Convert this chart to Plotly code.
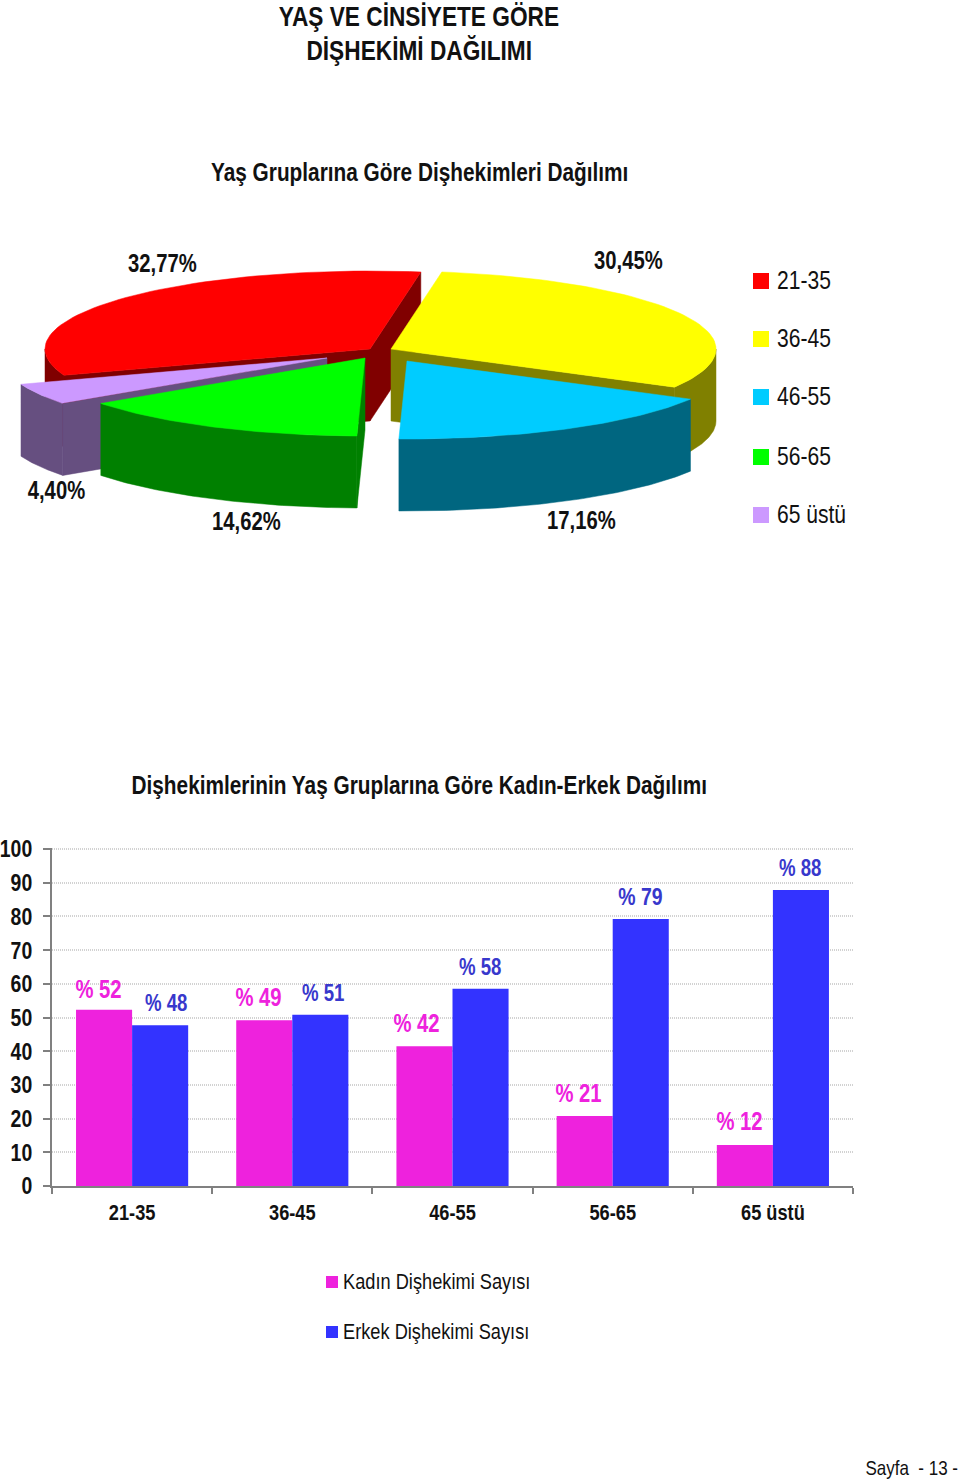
import math
import plotly.graph_objects as go

# ---- data ----
age_groups = ["21-35", "36-45", "46-55", "56-65", "65 üstü"]
pie_values = [32.77, 30.45, 17.16, 14.62, 4.40]
female_pct = [52.3, 49.2, 41.5, 20.8, 12.2]
male_pct = [47.7, 50.8, 58.5, 79.2, 87.8]
female_labels = ["% 52", "% 49", "% 42", "% 21", "% 12"]
male_labels = ["% 48", "% 51", "% 58", "% 79", "% 88"]
series_names = ["Kadın Dişhekimi Sayısı", "Erkek Dişhekimi Sayısı"]

# ---- styles / layout ----
FONT = "Liberation Sans, Arial, sans-serif"
top_colors = ["#FF0000", "#FFFF00", "#00CCFF", "#00FF00", "#CC99FF"]
wall_colors = ["#800000", "#808000", "#006680", "#008000", "#664F80"]
apexes = [(370, 349), (391, 349), (407, 361), (365, 358), (327, 358)]
RX, RY, DEPTH = 325, 78, 72
START = 9.0

total = sum(pie_values)
angles = {}
a = START
order = [1, 2, 3, 4, 0]
for i in order:
    sweep = pie_values[i] / total * 360
    angles[i] = (a, a + sweep)
    a += sweep


def pt(apex, t, dz=0):
    r = math.radians(t)
    return apex[0] + RX * math.sin(r), apex[1] - RY * math.cos(r) + dz


def arc(apex, t0, t1, dz=0, n=60):
    return [pt(apex, t0 + (t1 - t0) * k / n, dz) for k in range(n + 1)]


fig = go.Figure()

# bars
fig.add_trace(go.Bar(x=age_groups, y=female_pct, marker=dict(color="#EE22DD", line_width=0),
                     showlegend=False))
fig.add_trace(go.Bar(x=age_groups, y=male_pct, marker=dict(color="#3333FF", line_width=0),
                     showlegend=False))


def poly(points, color):
    xs = [p[0] for p in points] + [points[0][0]]
    ys = [p[1] for p in points] + [points[0][1]]
    fig.add_trace(go.Scatter(x=xs, y=ys, xaxis="x2", yaxis="y2", mode="lines", fill="toself",
                             fillcolor=color, line=dict(width=0.5, color=color),
                             hoverinfo="skip", showlegend=False))


def wedge(i):
    apex = apexes[i]
    t0, t1 = angles[i]
    wall = wall_colors[i]
    low = apex[0], apex[1] + DEPTH
    for t in (t0, t1):
        e = pt(apex, t)
        if i == 0 or (i == 1 and t == t1) or (i == 3 and t == t0) or (i == 4 and t == t0):
            poly([apex, e, (e[0], e[1] + DEPTH), low], wall)
    lo, hi = max(t0, 90), min(t1, 270)
    if lo < hi:
        poly(arc(apex, lo, hi) + arc(apex, lo, hi, DEPTH)[::-1], wall)
    poly([apex] + arc(apex, t0, t1), top_colors[i])


for i in [0, 1, 4, 3, 2]:
    wedge(i)


def key(x, ys, names, colors, msize, tx, fsize):
    fig.add_trace(go.Scatter(x=[x] * len(ys), y=ys, xaxis="x2", yaxis="y2", mode="markers",
                             marker=dict(symbol="square", size=msize, color=colors),
                             hoverinfo="skip", showlegend=False))
    fig.add_trace(go.Scatter(x=[tx] * len(ys), y=[v + 1.5 for v in ys], xaxis="x2", yaxis="y2",
                             mode="text", text=names, textposition="middle right",
                             textfont=dict(family=FONT, size=fsize, color="#111111"),
                             hoverinfo="skip", showlegend=False))


key(761, [281, 339, 397, 457, 515], age_groups, top_colors, 16, 777, 26)
key(332, [1282, 1332], series_names, ["#EE22DD", "#3333FF"], 12, 343, 22.5)

fig.add_trace(go.Scatter(x=[958], y=[1470], xaxis="x2", yaxis="y2", mode="text",
                         text=["Sayfa  - 13 -"], textposition="middle left",
                         textfont=dict(family=FONT, size=21, color="#111111"),
                         hoverinfo="skip", showlegend=False))

ann = []


def label(x, y, text, size, bold=True, color="#111111"):
    ann.append(dict(x=x, y=y, xref="x2", yref="y2", text=f"<b>{text}</b>" if bold else text,
                    showarrow=False, xanchor="center", yanchor="middle",
                    font=dict(family=FONT, size=size, color=color)))


label(419, 16.5, "YAŞ VE CİNSİYETE GÖRE", 28)
label(419, 50.5, "DİŞHEKİMİ DAĞILIMI", 28)
label(419, 172, "Yaş Gruplarına Göre Dişhekimleri Dağılımı", 25.7)
label(419, 785, "Dişhekimlerinin Yaş Gruplarına Göre Kadın-Erkek Dağılımı", 25.7)

pie_label_pos = [(162, 263), (628, 260), (581, 520), (246, 521), (56, 490)]
for v, (x, y) in zip(pie_values, pie_label_pos):
    label(x, y, f"{v:.2f}%".replace(".", ","), 25)

f_pos = [(98, 989, 25), (258, 997, 25), (416, 1023, 25), (578, 1093, 25), (739, 1121, 25)]
m_pos = [(166, 1003, 23), (323, 993, 23), (480, 967, 23), (640, 896, 24), (800, 868, 23)]
for t, (x, y, s) in zip(female_labels, f_pos):
    label(x, y, t, s, color="#EE22DD")
for t, (x, y, s) in zip(male_labels, m_pos):
    label(x, y, t, s, color="#3838CC")

H = 1483
fig.update_layout(
    width=960, height=H, margin=dict(l=0, r=0, t=0, b=0, pad=0),
    paper_bgcolor="white", plot_bgcolor="rgba(0,0,0,0)",
    barmode="group", bargap=0.3, bargroupgap=0,
    showlegend=False, annotations=ann,
    xaxis=dict(domain=[52 / 960, 853 / 960], anchor="y", type="category", automargin=False,
               tickson="boundaries", ticks="outside", ticklen=6, tickcolor="#808080",
               tickwidth=2, showline=True, linecolor="#808080", linewidth=2,
               showgrid=False, tickfont=dict(family=FONT, size=22.5, color="#111111"),
               ticklabelstandoff=5, tickprefix="<b>", ticksuffix="</b>"),
    yaxis=dict(domain=[1 - 1186 / H, 1 - 848 / H], anchor="x", range=[0, 100.3], dtick=10,
               automargin=False,
               ticks="outside", ticklen=7, tickcolor="#808080", tickwidth=2,
               showline=True, linecolor="#808080", linewidth=2, zeroline=False,
               showgrid=True, gridcolor="#D2D2D2", griddash="1px,1px", gridwidth=1.5,
               ticklabelstandoff=6,
               tickfont=dict(family=FONT, size=24, color="#111111"),
               tickprefix="<b>", ticksuffix="</b>"),
    xaxis2=dict(domain=[0, 1], range=[0, 960], visible=False, anchor="y2", fixedrange=True,
                automargin=False),
    yaxis2=dict(domain=[0, 1], range=[H, 0], visible=False, anchor="x2", fixedrange=True,
                automargin=False),
)

# The page has a default body margin, and no narrow font is installed: remove the
# margin and condense every text to the reference's Arial-Narrow proportions.
post = """
document.body.style.margin = '0';
var K = 0.81;
document.querySelectorAll('.main-svg text').forEach(function (t) {
  var n = t.getComputedTextLength();
  if (!(n > 0)) return;
  if (t.textContent.indexOf('Sayfa') === 0) {
    var x = parseFloat(t.getAttribute('x'));
    t.setAttribute('transform', 'translate(' + (x * (1 - K)) + ',0) scale(' + K + ',1)');
  } else {
    t.setAttribute('textLength', n * K);
    t.setAttribute('lengthAdjust', 'spacingAndGlyphs');
  }
});
"""
fig.write_html("out.html", config=dict(displayModeBar=False), post_script=post)
